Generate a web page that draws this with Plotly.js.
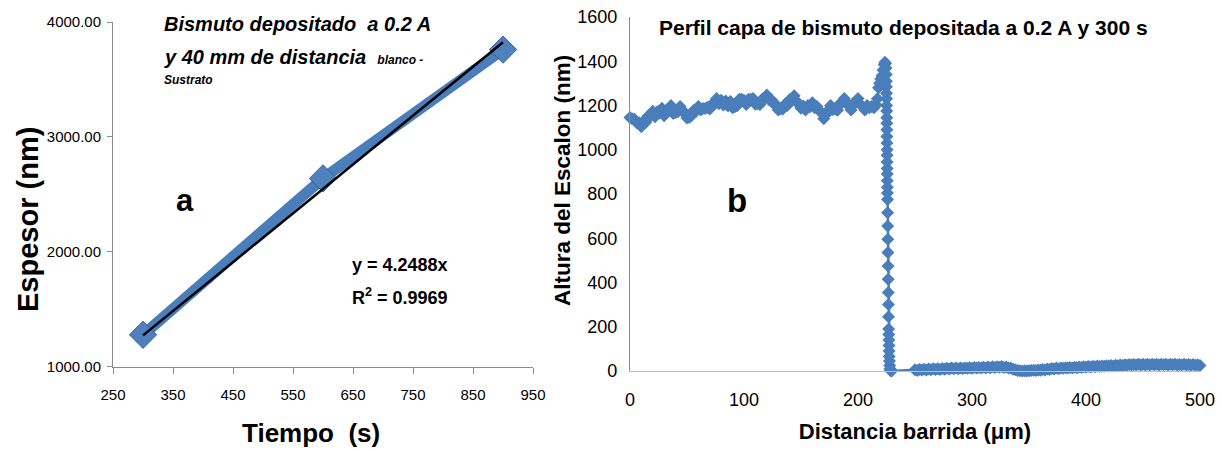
<!DOCTYPE html>
<html>
<head>
<meta charset="utf-8">
<script src="https://cdn.plot.ly/plotly-3.0.1.min.js"></script>
<style>
  html, body { margin: 0; padding: 0; background: #ffffff; }
  #chart { width: 1222px; height: 451px; }
</style>
</head>
<body>
<div id="chart"></div>
<script>
// ---- Panel a: film thickness vs deposition time ----
const tiempo = [300, 600, 900];
const espesor = [1280, 2640, 3760];
const trendSlope = 4.2488;          // linear fit through the origin
const trendR2 = 0.9969;
const tiempoTicks = [250, 350, 450, 550, 650, 750, 850, 950];
const espesorTicks = [1000, 2000, 3000, 4000];

// ---- Panel b: step profile (height in nm vs scanned distance in µm) ----
const plateauX = [0,2,4,6,8,10,12,14,16,18,20,22,24,26,28,30,32,34,36,38,40,42,44,46,48,50,52,54,56,58,60,62,64,66,68,70,72,74,76,78,80,82,84,86,88,90,92,94,96,98,100,102,104,106,108,110,112,114,116,118,120,122,124,126,128,130,132,134,136,138,140,142,144,146,148,150,152,154,156,158,160,162,164,166,168,170,172,174,176,178,180,182,184,186,188,190,192,194,196,198,200,202,204,206,208,210,212,214,216];
const plateauY = [1146,1140,1138,1122,1122,1104,1130,1124,1152,1152,1174,1149,1172,1166,1188,1154,1172,1184,1200,1164,1168,1172,1196,1174,1168,1144,1146,1154,1178,1174,1196,1180,1186,1186,1192,1184,1206,1206,1232,1208,1224,1202,1220,1198,1218,1190,1194,1199,1228,1228,1224,1204,1228,1228,1232,1206,1208,1204,1228,1230,1248,1226,1226,1208,1204,1180,1184,1184,1206,1200,1226,1226,1244,1216,1210,1188,1198,1180,1200,1194,1212,1190,1196,1178,1166,1140,1168,1170,1200,1182,1184,1178,1208,1212,1232,1208,1202,1180,1210,1212,1232,1204,1196,1180,1200,1190,1196,1190,1202];

const edgeX = [217,218,219,220,221,222,223,223.6,224.2,224.6,
  224.8,224.9,225.0,225.05,225.1,225.15,225.2,225.25,225.3,225.35,225.4,225.45,225.5,225.55,225.6,225.65,225.7,225.75,225.8,225.85,225.9,
  226.0,226.1,226.2,226.3,226.4,226.5,226.6,226.7,226.8,226.9,
  227.0,227.1,227.2,227.3,227.4,227.6,227.8,228.1,228.5,229.5];
const edgeY = [1230,1280,1300,1320,1335,1360,1385,1395,1390,1370,
  1340,1310,1285,1255,1230,1200,1175,1145,1120,1090,1060,1030,1000,975,945,915,890,860,830,805,775,
  715,655,595,535,475,415,355,300,245,190,
  165,140,115,90,65,45,25,10,2,0];

const substrateX = [250,252,254,256,258,260,262,264,266,268,270,272,274,276,278,280,282,284,286,288,290,292,294,296,298,300,302,304,306,308,310,312,314,316,318,320,322,324,326,328,330,332,334,336,338,340,342,344,346,348,350,352,354,356,358,360,362,364,366,368,370,372,374,376,378,380,382,384,386,388,390,392,394,396,398,400,402,404,406,408,410,412,414,416,418,420,422,424,426,428,430,432,434,436,438,440,442,444,446,448,450,452,454,456,458,460,462,464,466,468,470,472,474,476,478,480,482,484,486,488,490,492,494,496,498,500];
const substrateY = [6,2,7,4,8,5,9,6,10,7,10,7,11,8,12,9,13,10,13,10,14,11,14,12,15,12,16,13,16,14,17,14,18,15,19,16,19,17,20,16,18,13,14,8,6,2,1,0,1,0,1,2,3,2,5,3,7,5,9,7,11,9,13,10,14,12,15,13,16,14,17,15,18,16,19,17,20,18,21,19,22,20,23,21,24,22,25,23,26,24,27,25,28,26,29,27,29,27,30,27,30,27,30,27,30,28,30,27,30,28,30,27,30,28,30,27,29,27,30,27,29,26,29,26,28,25,28,26];

const profileX = plateauX.concat(edgeX, substrateX);
const profileY = plateauY.concat(edgeY, substrateY);
const distTicks = [0, 100, 200, 300, 400, 500];
const alturaTicks = [0, 200, 400, 600, 800, 1000, 1200, 1400, 1600];

const BLUE = '#4a7ebb';
const BOLD = 'Liberation Sans, Arial, sans-serif';
const NARROW = 'Liberation Sans Narrow, Arial Narrow, Liberation Sans, sans-serif';

const traces = [
  {
    x: tiempo, y: espesor, xaxis: 'x', yaxis: 'y',
    type: 'scatter', mode: 'lines+markers',
    line: { color: BLUE, width: 11 },
    marker: { symbol: 'diamond', size: 21, color: '#4f81bd', line: { color: '#36649c', width: 1 } },
    cliponaxis: false, showlegend: false, hoverinfo: 'x+y'
  },
  {
    x: [tiempo[0], tiempo[tiempo.length - 1]],
    y: [trendSlope * tiempo[0], trendSlope * tiempo[tiempo.length - 1]],
    xaxis: 'x', yaxis: 'y', type: 'scatter', mode: 'lines',
    line: { color: '#000000', width: 2.5 },
    cliponaxis: false, showlegend: false, hoverinfo: 'skip'
  },
  {
    x: profileX, y: profileY, xaxis: 'x2', yaxis: 'y2',
    type: 'scatter', mode: 'lines+markers',
    line: { color: BLUE, width: 2.5 },
    marker: { symbol: 'diamond', size: 10, color: BLUE },
    cliponaxis: false, showlegend: false, hoverinfo: 'x+y'
  }
];

const tickFontA = { family: NARROW, size: 15, color: '#000' };
const tickFontB = { family: NARROW, size: 18, color: '#000' };

const layout = {
  width: 1222, height: 451,
  margin: { l: 0, r: 0, t: 0, b: 0 },
  paper_bgcolor: '#ffffff', plot_bgcolor: '#ffffff',
  showlegend: false,
  xaxis: {
    domain: [0.0925, 0.4362], range: [250, 950],
    tickvals: tiempoTicks, ticktext: tiempoTicks.map(String),
    showgrid: false, zeroline: false,
    showline: true, linecolor: '#8c8c8c', linewidth: 1,
    ticks: 'outside', ticklen: 6, tickcolor: '#8c8c8c',
    tickfont: tickFontA, ticklabelstandoff: 8
  },
  yaxis: {
    domain: [0.1863, 0.9512], range: [1000, 4000],
    tickvals: espesorTicks, ticktext: espesorTicks.map(v => v.toFixed(2)),
    showgrid: false, zeroline: false,
    showline: true, linecolor: '#8c8c8c', linewidth: 1,
    ticks: 'outside', ticklen: 5, tickcolor: '#8c8c8c',
    tickfont: tickFontA, ticklabelstandoff: 3
  },
  xaxis2: {
    domain: [0.5155, 0.982], range: [0, 500],
    tickvals: distTicks, ticktext: distTicks.map(String),
    showgrid: false, zeroline: false,
    showline: true, linecolor: '#bfbfbf', linewidth: 1.5,
    ticks: '', tickfont: tickFontB, ticklabelstandoff: 12,
    anchor: 'y2',
    title: { text: 'Distancia barrida (\u03bcm)', font: { family: BOLD, size: 22, color: '#000', weight: 'bold' }, standoff: 14 }
  },
  yaxis2: {
    domain: [0.1774, 0.9623], range: [0, 1600],
    tickvals: alturaTicks, ticktext: alturaTicks.map(String),
    showgrid: false, zeroline: false,
    showline: true, linecolor: '#8c8c8c', linewidth: 1,
    ticks: '', tickfont: tickFontB, ticklabelstandoff: 8,
    anchor: 'x2'
  },
  annotations: [
    // axis titles
    { xref: 'paper', yref: 'paper', x: 0.0229, y: 0.5144, xanchor: 'center', yanchor: 'middle', showarrow: false, textangle: -90,
      text: '<b>Espesor (nm)</b>', font: { family: BOLD, size: 29, color: '#000' } },
    { xref: 'paper', yref: 'paper', x: 0.2545, y: 0.04, xanchor: 'center', yanchor: 'middle', showarrow: false,
      text: '<b>Tiempo\u00a0\u00a0(s)</b>', font: { family: BOLD, size: 26, color: '#000' } },
    { xref: 'paper', yref: 'paper', x: 0.4607, y: 0.6009, xanchor: 'center', yanchor: 'middle', showarrow: false, textangle: -90,
      text: '<b>Altura del Escalon (nm)</b>', font: { family: BOLD, size: 22.5, color: '#000' } },
    // panel a title and labels
    { xref: 'paper', yref: 'paper', x: 0.1326, y: 0.9468, xanchor: 'left', yanchor: 'middle', showarrow: false,
      text: '<b><i>Bismuto depositado\u00a0\u00a0a 0.2 A</i></b>', font: { family: BOLD, size: 20, color: '#000' } },
    { xref: 'paper', yref: 'paper', x: 0.1326, y: 0.8736, xanchor: 'left', yanchor: 'middle', showarrow: false,
      text: '<b><i>y 40 mm de distancia</i></b>\u00a0\u00a0<b><i><span style="font-size:12px">blanco -</span></i></b>', font: { family: BOLD, size: 20, color: '#000' } },
    { xref: 'paper', yref: 'paper', x: 0.1326, y: 0.8226, xanchor: 'left', yanchor: 'middle', showarrow: false,
      text: '<b><i>Sustrato</i></b>', font: { family: BOLD, size: 12, color: '#000' } },
    { xref: 'paper', yref: 'paper', x: 0.1514, y: 0.5565, xanchor: 'center', yanchor: 'middle', showarrow: false,
      text: '<b>a</b>', font: { family: BOLD, size: 31, color: '#000' } },
    { xref: 'paper', yref: 'paper', x: 0.2864, y: 0.4124, xanchor: 'left', yanchor: 'middle', showarrow: false,
      text: '<b>y = ' + trendSlope + 'x</b>', font: { family: NARROW, size: 18, color: '#000' } },
    { xref: 'paper', yref: 'paper', x: 0.2864, y: 0.3415, xanchor: 'left', yanchor: 'middle', showarrow: false,
      text: '<b>R<sup>2</sup> = ' + trendR2 + '</b>', font: { family: NARROW, size: 18, color: '#000' } },
    // panel b title and label
    { xref: 'paper', yref: 'paper', x: 0.739, y: 0.94, xanchor: 'center', yanchor: 'middle', showarrow: false,
      text: '<b>Perfil capa de bismuto depositada a 0.2 A y 300 s</b>', font: { family: BOLD, size: 21, color: '#000' } },
    { xref: 'paper', yref: 'paper', x: 0.603, y: 0.5565, xanchor: 'center', yanchor: 'middle', showarrow: false,
      text: '<b>b</b>', font: { family: BOLD, size: 33, color: '#000' } }
  ]
};

Plotly.newPlot('chart', traces, layout, { displayModeBar: false, staticPlot: true });
</script>
</body>
</html>
